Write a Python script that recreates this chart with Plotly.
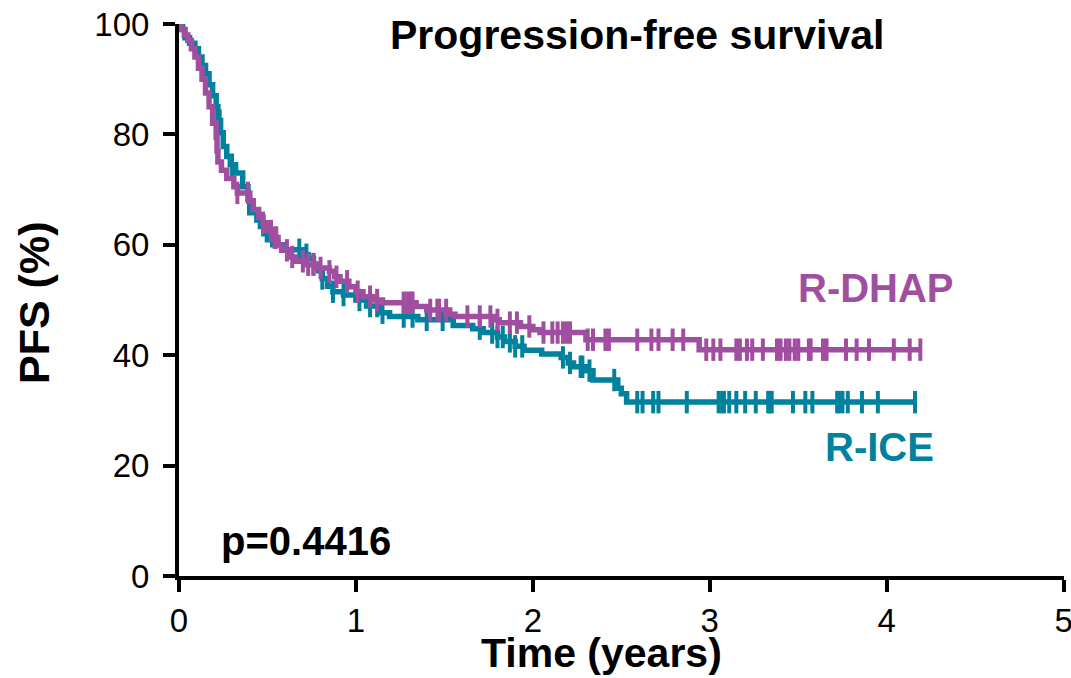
import plotly.graph_objects as go

# Kaplan-Meier step data: event times (years) and survival (%) after each drop
dhap_times = [0.01, 0.03, 0.05, 0.07, 0.09, 0.11, 0.13, 0.15, 0.17, 0.19, 0.21, 0.215, 0.22,
              0.24, 0.27, 0.31, 0.33, 0.40, 0.42, 0.45, 0.475, 0.50, 0.53, 0.56, 0.58, 0.62,
              0.66, 0.72, 0.78, 0.85, 0.88, 0.91, 0.96, 1.00, 1.04, 1.10, 1.15, 1.34, 1.40,
              1.53, 1.56, 1.78, 1.81, 1.93, 2.00, 2.04, 2.30, 2.94]
dhap_surv = [99, 98, 97, 95.5, 94, 92, 90, 87.5, 85, 82, 79.5, 77, 75,
             73.5, 72, 70.5, 69.4, 68, 66.4, 65, 64, 62.5, 61.3, 60, 59, 57.8,
             57, 56.4, 55.8, 55.2, 54.2, 53.4, 52.4, 51.5, 50.6, 50, 49.5, 48.8, 48.2,
             47.4, 47.0, 46.4, 45.9, 45.2, 44.6, 44.1, 42.8, 41.0]
dhap_censored = [0.33, 0.39, 0.475, 0.52, 0.54, 0.55, 0.61, 0.64, 0.70, 0.73, 0.76, 0.80, 0.85,
                 0.89, 0.95, 1.01, 1.08, 1.12, 1.27, 1.29, 1.31, 1.32, 1.42, 1.46, 1.47, 1.51,
                 1.63, 1.70, 1.76, 1.80, 1.87, 1.91, 1.98, 2.06, 2.11, 2.14, 2.17, 2.19, 2.21,
                 2.31, 2.34, 2.41, 2.43, 2.59, 2.67, 2.71, 2.79, 2.85, 2.98, 3.02, 3.06, 3.15,
                 3.17, 3.21, 3.24, 3.30, 3.38, 3.40, 3.43, 3.45, 3.48, 3.50, 3.56, 3.57, 3.64,
                 3.66, 3.77, 3.83, 3.90, 4.04, 4.13, 4.19]

ice_times = [0.02, 0.034, 0.06, 0.09, 0.11, 0.13, 0.15, 0.17, 0.19, 0.21, 0.22, 0.235, 0.25,
             0.27, 0.29, 0.32, 0.36, 0.39, 0.40, 0.44, 0.46, 0.48, 0.50, 0.53, 0.59, 0.70,
             0.73, 0.76, 0.79, 0.81, 0.84, 0.87, 0.93, 1.00, 1.06, 1.13, 1.19, 1.35, 1.55,
             1.66, 1.72, 1.80, 1.84, 1.90, 1.95, 2.05, 2.16, 2.20, 2.23, 2.30, 2.34, 2.48,
             2.50, 2.53]
ice_surv = [99, 97.5, 96.5, 95.5, 94, 92.5, 91, 89, 87, 85, 82.5, 80.3, 77.8,
            76, 74.5, 73, 70.5, 68.2, 65.8, 64.5, 63.3, 62, 60.9, 60, 59.1, 58.2,
            57.5, 56.5, 55.3, 53.9, 52.5, 51.5, 50.9, 50.0, 48.9, 47.7, 47.0, 46.4, 45.4,
            44.8, 44.1, 43.3, 42.5, 41.6, 40.9, 40.2, 39.6, 38.6, 37.9, 37.2, 35.5, 34.0,
            33.0, 31.5]
ice_censored = [0.23, 0.30, 0.68, 0.72, 0.76, 0.81, 0.87, 0.93, 1.02, 1.08, 1.12, 1.15, 1.27,
                1.32, 1.40, 1.49, 1.70, 1.77, 1.80, 1.83, 1.87, 1.90, 1.94, 2.17, 2.21, 2.27,
                2.28, 2.32, 2.46, 2.59, 2.62, 2.68, 2.71, 2.87, 3.05, 3.07, 3.08, 3.11, 3.15,
                3.20, 3.26, 3.33, 3.34, 3.35, 3.47, 3.54, 3.58, 3.72, 3.73, 3.75, 3.78, 3.86,
                3.95, 4.16]

x_ticks = [0, 1, 2, 3, 4, 5]
y_ticks = [0, 20, 40, 60, 80, 100]

PURPLE = "#A04FA0"
TEAL = "#00829F"
FONT = "Liberation Sans, Arial, sans-serif"


def surv_at(t, times, surv):
    s = 100.0
    for ti, si in zip(times, surv):
        if ti <= t:
            s = si
        else:
            break
    return s


def km_traces(times, surv, censored, color, name):
    end = max(censored[-1], times[-1])
    xs = [0] + times + [end]
    ys = [100] + surv + [surv[-1]]
    line = go.Scatter(x=xs, y=ys, mode="lines", line=dict(color=color, width=5.5, shape="hv"),
                      name=name, showlegend=False, hoverinfo="skip")
    marks = go.Scatter(x=censored, y=[surv_at(t, times, surv) for t in censored],
                       mode="markers", name=name + " censored", showlegend=False,
                       marker=dict(symbol="line-ns", size=16, color=color,
                                   line=dict(color=color, width=4)),
                       cliponaxis=False)
    return [line, marks]


fig = go.Figure()
for tr in km_traces(ice_times, ice_surv, ice_censored, TEAL, "R-ICE"):
    fig.add_trace(tr)
for tr in km_traces(dhap_times, dhap_surv, dhap_censored, PURPLE, "R-DHAP"):
    fig.add_trace(tr)

axis_common = dict(showgrid=False, zeroline=False, showline=True, linecolor="black",
                   linewidth=4, ticks="outside", ticklen=12, tickwidth=4, tickcolor="black",
                   automargin=False,
                   tickfont=dict(family=FONT, size=33, color="black"))

fig.update_xaxes(range=[0, 5.002], tickmode="array", tickvals=x_ticks,
                 ticktext=[str(v) for v in x_ticks], ticklabeloverflow="allow",
                 **axis_common)
fig.update_yaxes(range=[0, 100], tickmode="array", tickvals=y_ticks,
                 ticktext=[str(v) for v in y_ticks], ticklabelstandoff=7, **axis_common)

annotations = [
    dict(text="<b>Progression-free survival</b>", x=2.59, y=98.0, xref="x", yref="y",
         font=dict(family=FONT, size=41, color="black")),
    dict(text="<b>R-DHAP</b>", x=3.94, y=52.2, xref="x", yref="y",
         font=dict(family=FONT, size=40, color=PURPLE)),
    dict(text="<b>R-ICE</b>", x=3.96, y=23.4, xref="x", yref="y",
         font=dict(family=FONT, size=40, color=TEAL)),
    dict(text="<b>p=0.4416</b>", x=0.72, y=6.3, xref="x", yref="y",
         font=dict(family=FONT, size=40, color="black")),
    dict(text="<b>Time (years)</b>", x=601, y=678, xref="paper", yref="paper",
         yanchor="bottom", font=dict(family=FONT, size=41, color="black")),
    dict(text="<b>PFS (%)</b>", x=34, y=303, xref="paper", yref="paper", textangle=-90,
         font=dict(family=FONT, size=43, color="black")),
]
# convert pixel-placed axis titles into paper coordinates
L, R, T, B = 179, 7, 24, 102
W, H = 1071, 678
pw, ph = W - L - R, H - T - B
for a in annotations:
    if a["xref"] == "paper":
        a["x"] = (a["x"] - L) / pw
        a["y"] = (H - B - a["y"]) / ph
    a.setdefault("yanchor", "middle")
    a.update(showarrow=False, xanchor="center")

fig.update_layout(width=W, height=H, margin=dict(l=L, r=R, t=T, b=B),
                  plot_bgcolor="white", paper_bgcolor="white",
                  annotations=annotations, font=dict(family=FONT))

fig.write_html("out.html")
